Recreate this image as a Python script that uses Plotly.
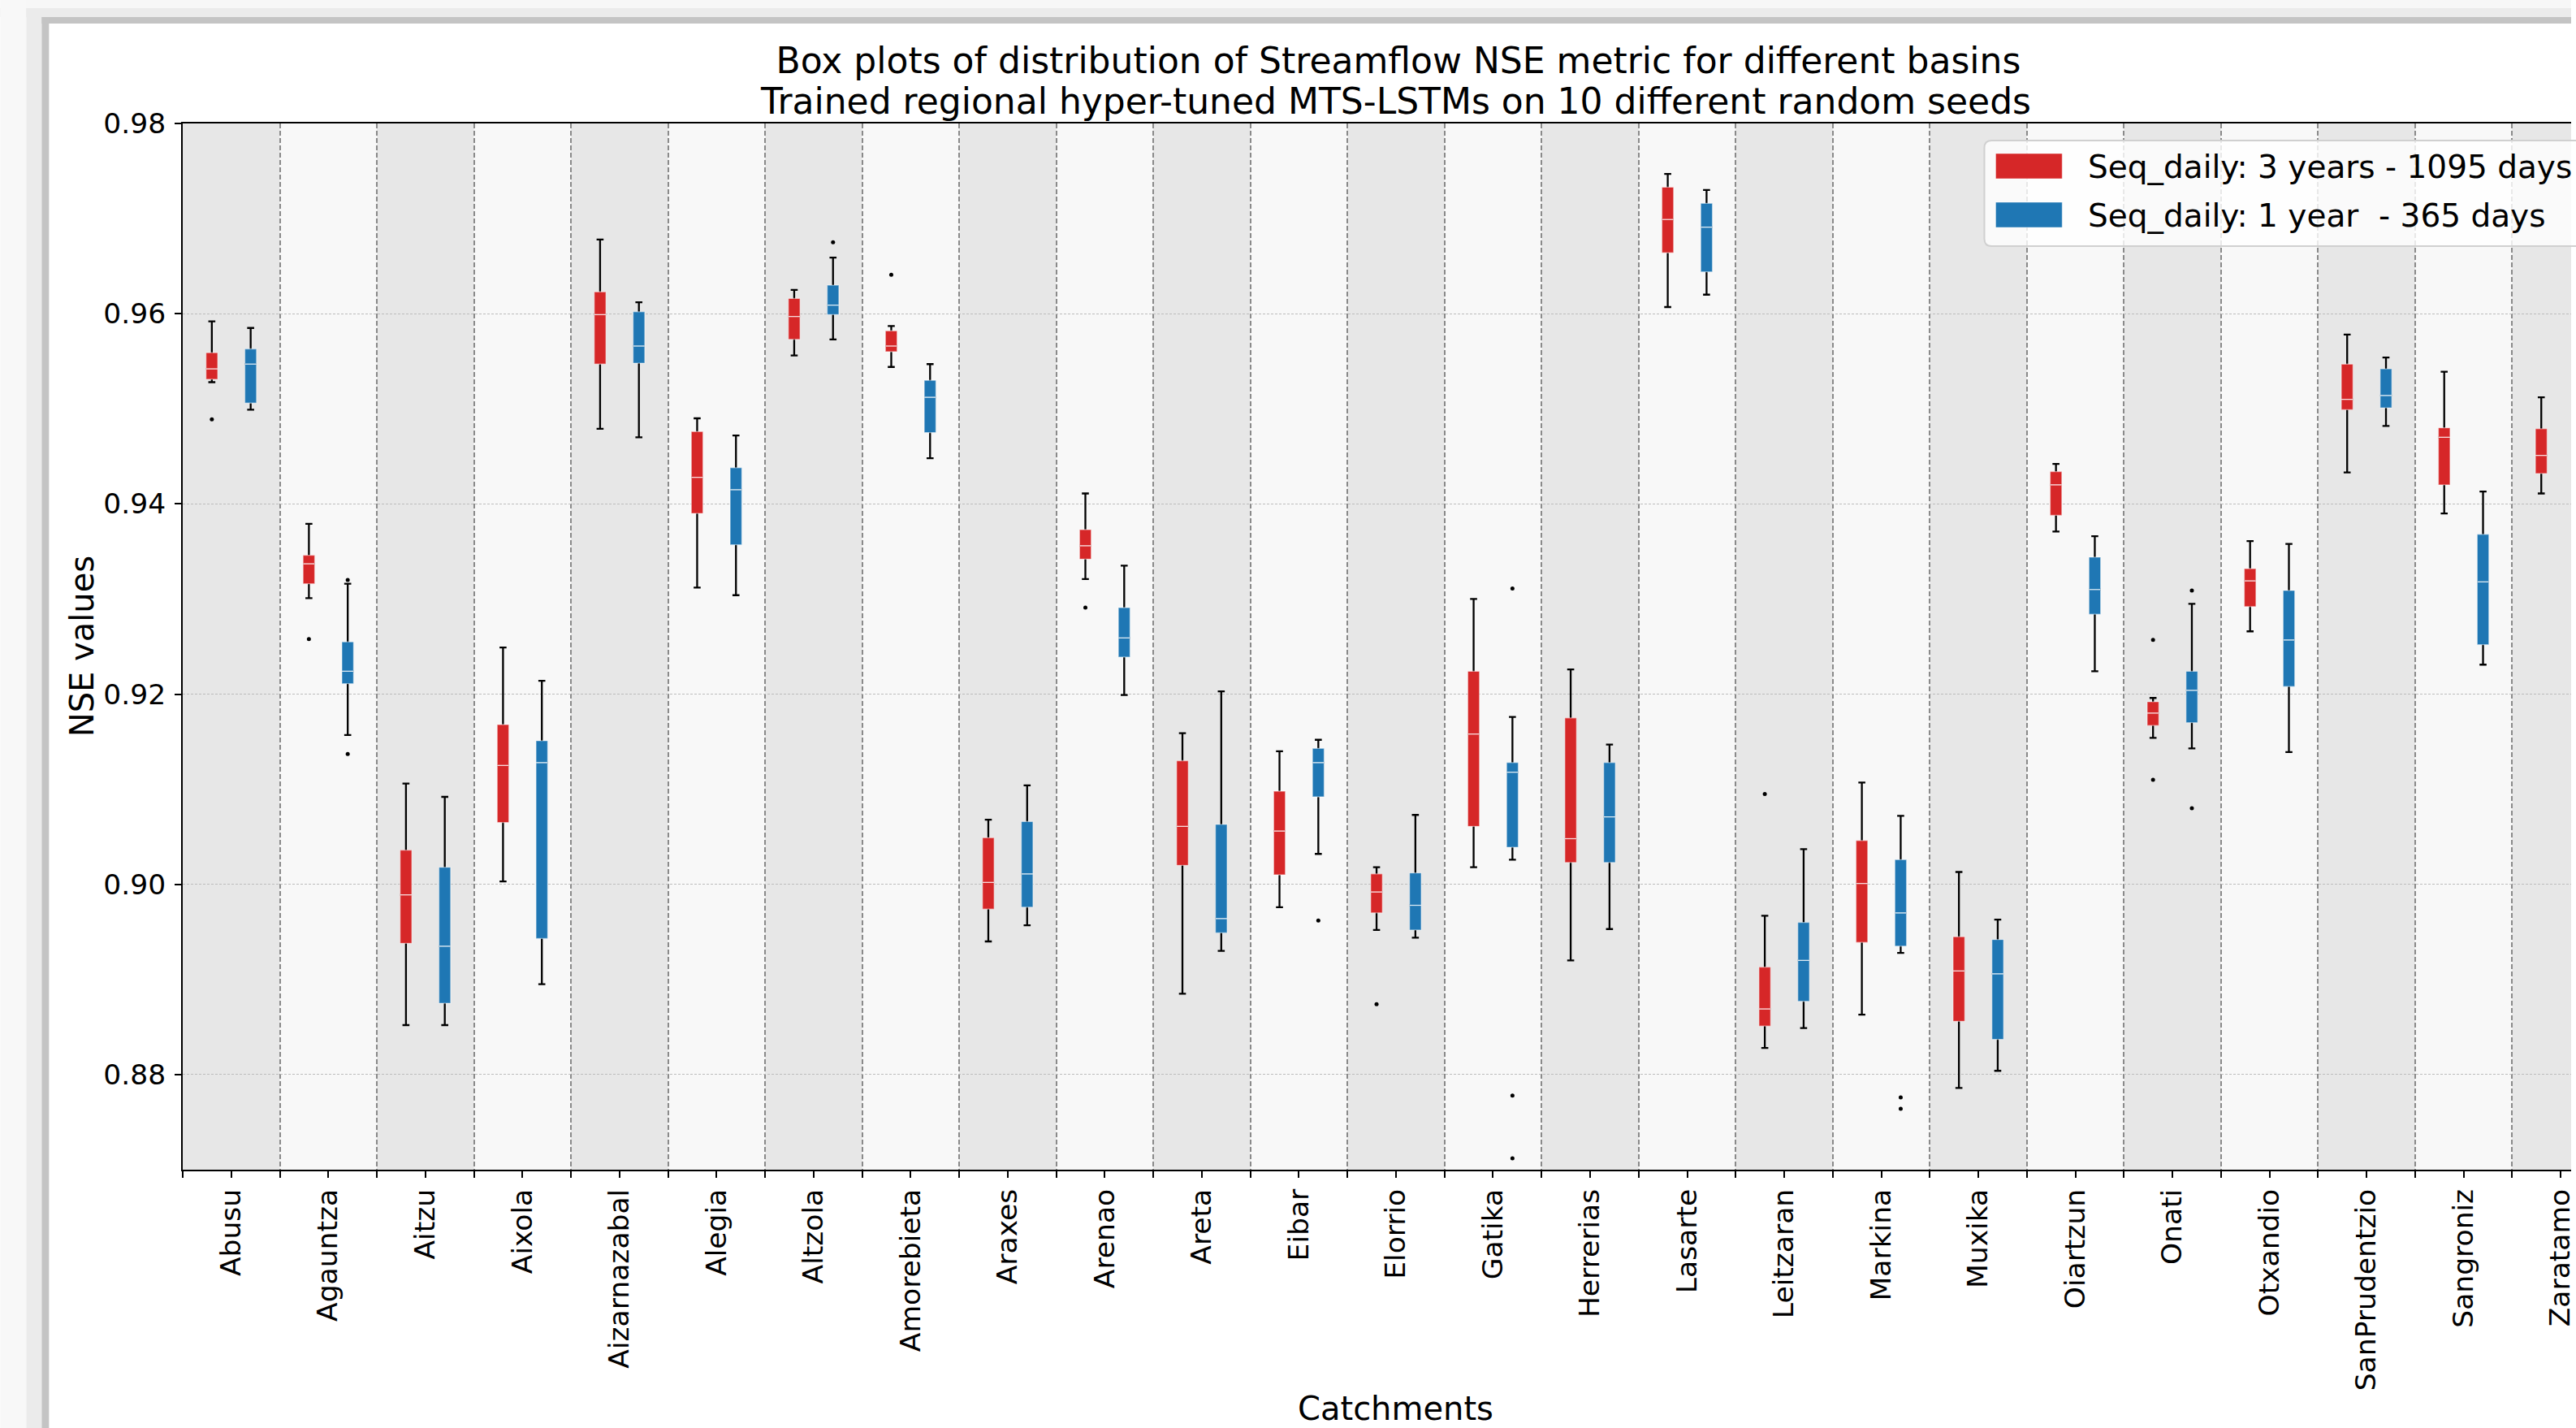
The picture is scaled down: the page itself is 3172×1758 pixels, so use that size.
import plotly.graph_objects as go

# ---------------- data ----------------
categories = ["Abusu", "Agauntza", "Aitzu", "Aixola", "Aizarnazabal", "Alegia", "Altzola",
              "Amorebieta", "Araxes", "Arenao", "Areta", "Eibar", "Elorrio", "Gatika",
              "Herrerias", "Lasarte", "Leitzaran", "Markina", "Muxika", "Oiartzun", "Onati",
              "Otxandio", "SanPrudentzio", "Sangroniz", "Zaratamo"]

# Seq_daily: 3 years - 1095 days (red)
red_lower = [0.9528, 0.9301, 0.8852, 0.9003, 0.9479, 0.9312, 0.9556, 0.9544, 0.8940, 0.9321, 0.8885, 0.8976, 0.8952,
             0.9018, 0.8920, 0.9607, 0.8828, 0.8863, 0.8786, 0.9371, 0.9154, 0.9266, 0.9433, 0.9390, 0.9411]
red_q1 = [0.9531, 0.9316, 0.8938, 0.9065, 0.9547, 0.9390, 0.9573, 0.9560, 0.8974, 0.9342, 0.9020, 0.9010, 0.8970,
          0.9061, 0.9023, 0.9664, 0.8851, 0.8939, 0.8856, 0.9388, 0.9167, 0.9292, 0.9499, 0.9420, 0.9432]
red_median = [0.9542, 0.9337, 0.8989, 0.9125, 0.9599, 0.9428, 0.9597, 0.9566, 0.9002, 0.9356, 0.9061, 0.9056, 0.8992,
              0.9158, 0.9048, 0.9699, 0.8869, 0.9001, 0.8909, 0.9420, 0.9180, 0.9319, 0.9510, 0.9470, 0.9451]
red_q3 = [0.9559, 0.9346, 0.9036, 0.9168, 0.9623, 0.9476, 0.9616, 0.9582, 0.9049, 0.9373, 0.9130, 0.9098, 0.9011,
          0.9224, 0.9175, 0.9733, 0.8913, 0.9046, 0.8945, 0.9434, 0.9192, 0.9332, 0.9547, 0.9480, 0.9479]
red_upper = [0.9592, 0.9379, 0.9106, 0.9249, 0.9678, 0.9490, 0.9625, 0.9587, 0.9068, 0.9411, 0.9159, 0.9140, 0.9018,
             0.9300, 0.9226, 0.9747, 0.8967, 0.9107, 0.9013, 0.9442, 0.9196, 0.9361, 0.9578, 0.9539, 0.9512]
red_out_cat = ["Abusu", "Agauntza", "Amorebieta", "Arenao", "Elorrio", "Leitzaran", "Onati", "Onati"]
red_out_val = [0.9489, 0.9258, 0.9641, 0.9291, 0.8874, 0.9095, 0.9257, 0.9110]

# Seq_daily: 1 year - 365 days (blue); Zaratamo's blue box lies outside the visible frame
blue_lower = [0.9499, 0.9157, 0.8852, 0.8895, 0.9470, 0.9304, 0.9573, 0.9448, 0.8957, 0.9199, 0.8930, 0.9032,
              0.8944, 0.9026, 0.8953, 0.9620, 0.8849, 0.8928, 0.8804, 0.9224, 0.9143, 0.9139, 0.9482, 0.9231]
blue_q1 = [0.9506, 0.9211, 0.8875, 0.8943, 0.9548, 0.9357, 0.9599, 0.9475, 0.8976, 0.9239, 0.8949, 0.9092,
           0.8952, 0.9039, 0.9023, 0.9644, 0.8877, 0.8935, 0.8837, 0.9284, 0.9170, 0.9208, 0.9501, 0.9252]
blue_median = [0.9547, 0.9224, 0.8935, 0.9128, 0.9566, 0.9415, 0.9609, 0.9512, 0.9011, 0.9259, 0.8964, 0.9128,
               0.8978, 0.9118, 0.9071, 0.9691, 0.8920, 0.8970, 0.8906, 0.9310, 0.9204, 0.9257, 0.9514, 0.9318]
blue_q3 = [0.9563, 0.9255, 0.9018, 0.9151, 0.9602, 0.9438, 0.9630, 0.9530, 0.9066, 0.9291, 0.9063, 0.9143,
           0.9012, 0.9128, 0.9128, 0.9716, 0.8960, 0.9026, 0.8942, 0.9344, 0.9224, 0.9309, 0.9542, 0.9368]
blue_upper = [0.9585, 0.9316, 0.9092, 0.9214, 0.9612, 0.9472, 0.9659, 0.9547, 0.9104, 0.9335, 0.9203, 0.9152,
              0.9073, 0.9176, 0.9147, 0.9730, 0.9037, 0.9072, 0.8963, 0.9366, 0.9295, 0.9358, 0.9554, 0.9413]
blue_out_cat = ["Agauntza", "Agauntza", "Altzola", "Eibar", "Gatika", "Gatika", "Gatika", "Markina", "Markina",
                "Onati", "Onati"]
blue_out_val = [0.9320, 0.9137, 0.9675, 0.8962, 0.9311, 0.8778, 0.8712, 0.8776, 0.8764, 0.9309, 0.9080]

y_ticks = [0.88, 0.90, 0.92, 0.94, 0.96, 0.98]
series_names = ["Seq_daily: 3 years - 1095 days", "Seq_daily: 1 year\u00a0 - 365 days"]
title_lines = ["Box plots of distribution of Streamflow NSE metric for different basins",
               "Trained regional hyper-tuned MTS-LSTMs on 10 different random seeds"]
x_title = "Catchments"
y_title = "NSE values"

# ---------------- styling / layout ----------------
W, H = 3172, 1758
L, T, B = 225, 152, 1440
CATW = 119.76
AX_CX = 1722          # horizontal centre of the (wider, cropped) axes
RED, BLUE = "#d62728", "#1f77b4"
FONT = "DejaVu Sans"
OFF, BW = 0.2, 0.12

def px(x):
    return (x - L) / (W - L)

def py(y):
    return (B - y) / (B - T)

pos = {c: i for i, c in enumerate(categories)}
red_x = [i - OFF for i in range(len(red_q1))]
blue_x = [i + OFF for i in range(len(blue_q1))]

fig = go.Figure()

def add_whiskers(xs, lo, med, hi, color, name):
    fig.add_trace(go.Box(x=xs, q1=med, median=med, q3=med, lowerfence=lo, upperfence=hi,
                         width=BW, whiskerwidth=0.6, fillcolor=color,
                         line=dict(color="black", width=2.3), boxpoints=False,
                         showlegend=False, name=name, hoverinfo="skip"))

def add_boxes(xs, q1, med, q3, color, name):
    fig.add_trace(go.Box(x=xs, q1=q1, median=med, q3=q3, lowerfence=q1, upperfence=q3,
                         width=BW, whiskerwidth=0, fillcolor=color,
                         line=dict(color="rgba(255,255,255,0.45)", width=1.3), boxpoints=False,
                         showlegend=False, name=name))

def add_medians(xs, med, color, name):
    fig.add_trace(go.Box(x=xs, q1=med, median=med, q3=med, lowerfence=med, upperfence=med,
                         width=BW, whiskerwidth=0, fillcolor=color,
                         line=dict(color="rgba(255,255,255,0.7)", width=1.2), boxpoints=False,
                         showlegend=False, name=name, hoverinfo="skip"))

add_whiskers(red_x, red_lower, red_median, red_upper, RED, series_names[0])
add_whiskers(blue_x, blue_lower, blue_median, blue_upper, BLUE, series_names[1])
add_boxes(red_x, red_q1, red_median, red_q3, RED, series_names[0])
add_boxes(blue_x, blue_q1, blue_median, blue_q3, BLUE, series_names[1])
add_medians(red_x, red_median, RED, series_names[0])
add_medians(blue_x, blue_median, BLUE, series_names[1])

fig.add_trace(go.Scatter(x=[pos[c] - OFF for c in red_out_cat], y=red_out_val, mode="markers",
                         marker=dict(color="black", size=5), showlegend=False, hoverinfo="y"))
fig.add_trace(go.Scatter(x=[pos[c] + OFF for c in blue_out_cat], y=blue_out_val, mode="markers",
                         marker=dict(color="black", size=5), showlegend=False, hoverinfo="y"))

shapes = []
# alternating column shading
for i in range(len(categories)):
    if i % 2 == 0:
        shapes.append(dict(type="rect", xref="x", yref="paper", x0=i - 0.5, x1=i + 0.5, y0=0, y1=1,
                           fillcolor="#e7e7e7", line=dict(width=0), layer="below"))

# window frame (screenshot border)
def rect_px(x0, y0, x1, y1, color):
    return dict(type="rect", xref="paper", yref="paper", x0=px(x0), x1=px(x1), y0=py(y0), y1=py(y1),
                fillcolor=color, line=dict(width=0), layer="above")

shapes += [
    rect_px(0, 0, W, 10, "#f7f7f7"),
    rect_px(0, 10, W, 21, "#ebebeb"),
    rect_px(0, 0, 32, H, "#f8f8f8"),
    rect_px(32, 10, 51, H, "#ebebeb"),
    rect_px(51, 21, W, 29, "#c4c4c4"),
    rect_px(51, 21, 60, H, "#c4c4c4"),
]

# legend frame (rounded corners on the left)
lx0, lx1, ly0, ly1, r = 2448, 3230, 173, 303, 9
path = (f"M {px(lx0 + r)},{py(ly0)} L {px(lx1)},{py(ly0)} L {px(lx1)},{py(ly1)} L {px(lx0 + r)},{py(ly1)} "
        f"Q {px(lx0)},{py(ly1)} {px(lx0)},{py(ly1 - r)} L {px(lx0)},{py(ly0 + r)} "
        f"Q {px(lx0)},{py(ly0)} {px(lx0 + r)},{py(ly0)} Z")
shapes.append(dict(type="path", xref="paper", yref="paper", path=path,
                   fillcolor="rgba(255,255,255,0.8)", line=dict(color="#d0d0d0", width=2), layer="above"))
shapes.append(dict(type="rect", xref="paper", yref="paper", x0=px(2462), x1=px(2544), y0=py(220), y1=py(189),
                   fillcolor=RED, line=dict(color="rgba(255,255,255,0.45)", width=1), layer="above"))
shapes.append(dict(type="rect", xref="paper", yref="paper", x0=px(2462), x1=px(2544), y0=py(280), y1=py(249),
                   fillcolor=BLUE, line=dict(color="rgba(255,255,255,0.45)", width=1), layer="above"))

def note(text, x, y, size, xanchor="center", angle=0):
    return dict(xref="paper", yref="paper", x=px(x), y=py(y), xanchor=xanchor, yanchor="middle",
                text=text, showarrow=False, textangle=angle,
                font=dict(size=size, color="black", family=FONT))

annotations = [
    note(series_names[0], 2574, 205, 39, "left"),
    note(series_names[1], 2574, 265, 39, "left"),
    note(title_lines[1], AX_CX, 125, 44),
    note(x_title, AX_CX, 1734, 40),
    note(y_title, 101, (T + B) / 2, 40, angle=-90),
]

fig.update_layout(
    width=W, height=H,
    margin=dict(l=L, r=0, t=T, b=H - B, pad=0),
    paper_bgcolor="white", plot_bgcolor="#f8f8f8",
    font=dict(family=FONT, color="black", size=34.5),
    boxmode="overlay",
    showlegend=False,
    title=dict(text=title_lines[0],
               x=AX_CX / W, xref="container", xanchor="center",
               y=1 - 75 / H, yref="container", yanchor="middle",
               font=dict(size=44, family=FONT, color="black")),
    shapes=shapes,
    annotations=annotations,
    xaxis=dict(range=[-0.5, -0.5 + (W - L) / CATW], tickmode="array",
               tickvals=list(range(len(categories))), ticktext=categories, tickangle=-90,
               ticklabeloverflow="allow",
               ticks="outside", ticklen=8, tickwidth=2, tickcolor="black",
               showgrid=False, zeroline=False,
               showline=True, linecolor="black", linewidth=2, mirror=True,
               minor=dict(tickmode="array", tickvals=[i + 0.5 for i in range(-1, len(categories))],
                          ticks="outside", ticklen=8, tickwidth=2, tickcolor="black",
                          showgrid=True, gridcolor="#8a8a8a", gridwidth=1.5, griddash="6px,3px"),
               tickfont=dict(size=34.5)),
    yaxis=dict(range=[0.87, 0.98], tickmode="array", tickvals=y_ticks, tickformat=".2f",
               ticks="outside", ticklen=8, tickwidth=2, tickcolor="black",
               showgrid=True, gridcolor="#bcbcbc", gridwidth=1.2, griddash="3px,2px",
               zeroline=False, showline=True, linecolor="black", linewidth=2,
               tickfont=dict(size=34.5), ticklabelstandoff=4),
)

fig.write_html("out.html", config={"displayModeBar": False},
               post_script="document.body.style.margin='0';document.body.style.overflow='hidden';")
